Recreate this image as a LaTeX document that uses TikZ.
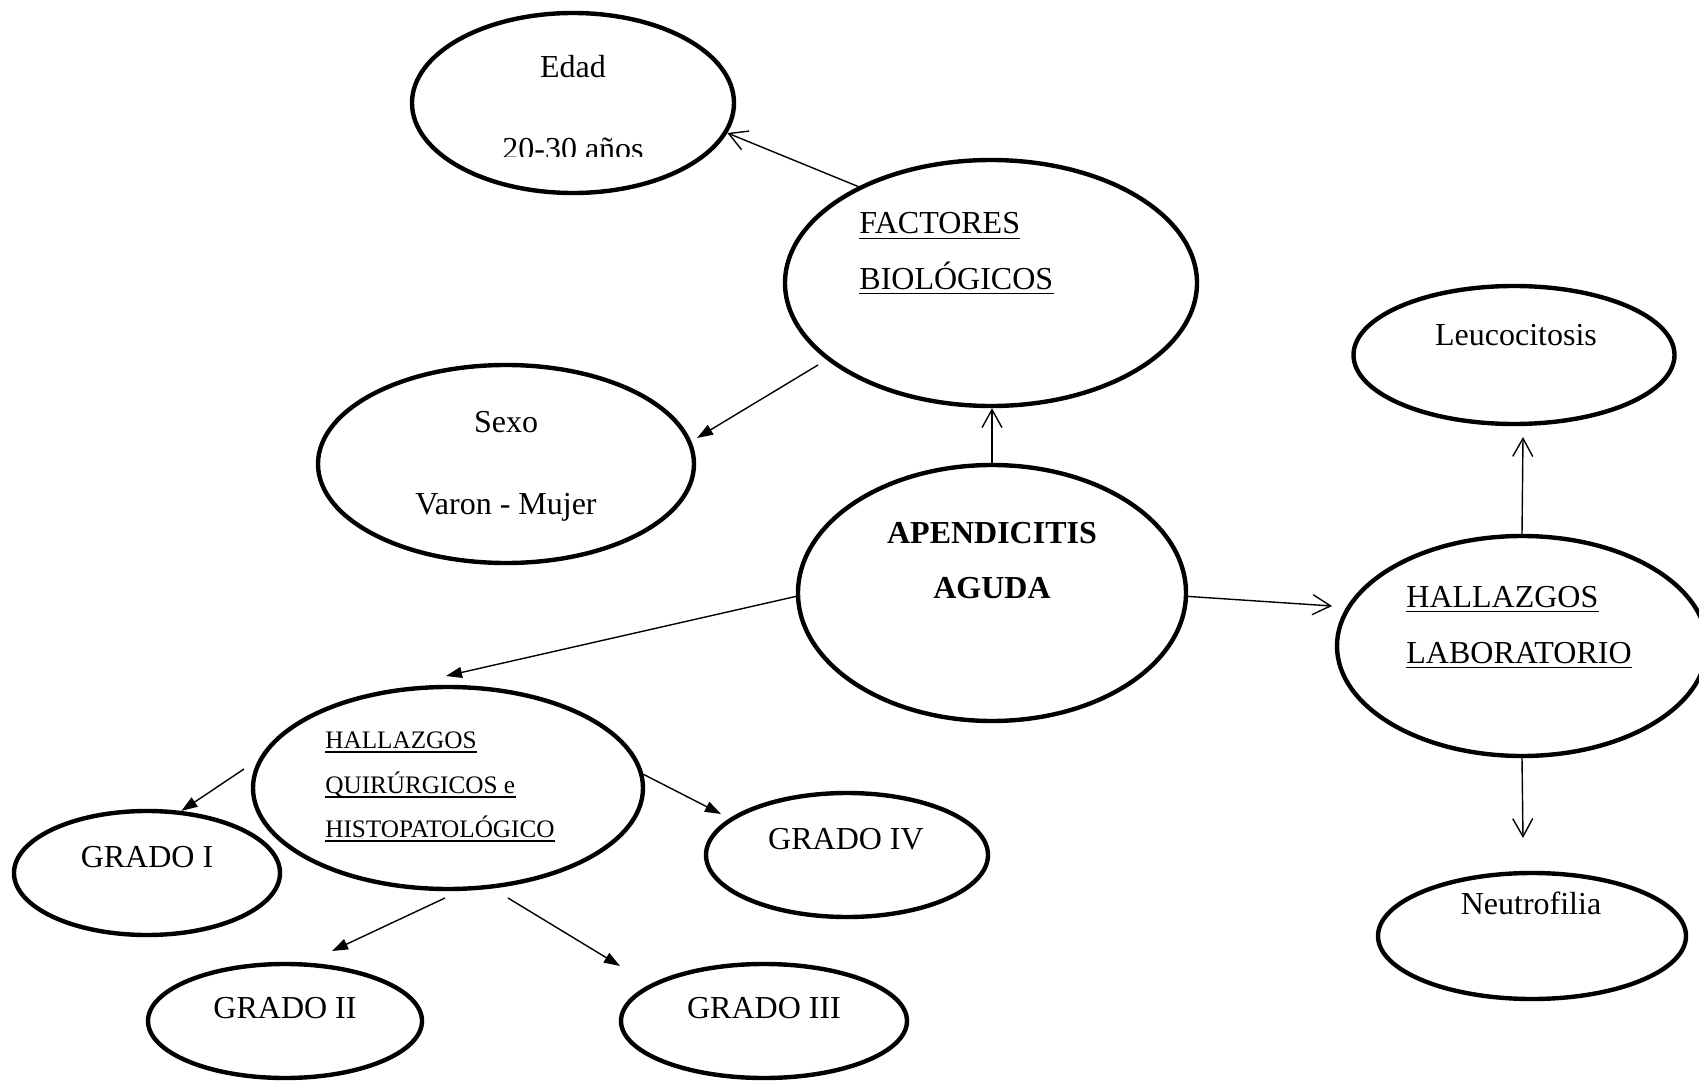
\documentclass[tikz,border=0pt]{standalone}
\usepackage{fontspec}
\setmainfont{Liberation Serif}
\usetikzlibrary{shapes.geometric,arrows.meta}
\begin{document}
\begin{tikzpicture}[x=0.5pt,y=-0.5pt,
  oval/.style={ellipse,draw,line width=2.2pt,inner sep=0pt},
  txt/.style={inner sep=0pt,anchor=base,font=\fontsize{16}{19}\selectfont},
  txtl/.style={txt,anchor=base west},
  txts/.style={inner sep=0pt,anchor=base west,font=\fontsize{12.6}{15}\selectfont},
  ul/.style={line width=0.6pt},
  openarrow/.style={line width=0.7pt,-{Straight Barb[length=9pt,width=10pt]}},
  triarrow/.style={line width=0.7pt,-{Triangle[length=8pt,width=5.5pt]}}
]
\useasboundingbox (0,0) rectangle (1699,1081);

% ---- ovals (sizes in pt, half of the drawing units) ----
\node[oval,minimum width=161pt,minimum height=90pt] (edad) at (573,103) {};
\node[oval,minimum width=206pt,minimum height=123pt] (fact) at (991,283) {};
\node[oval,minimum width=188pt,minimum height=99pt] (sexo) at (506,464) {};
\node[oval,minimum width=194pt,minimum height=128pt] (apen) at (992,593) {};
\node[oval,minimum width=185pt,minimum height=110pt] (hlab) at (1522,646) {};
\node[oval,minimum width=160.5pt,minimum height=69pt] (leuc) at (1514,355) {};
\node[oval,minimum width=154pt,minimum height=63pt] (neut) at (1532,936) {};
\node[oval,minimum width=195pt,minimum height=101pt] (hq) at (448,788) {};
\node[oval,minimum width=133pt,minimum height=62pt] (g1) at (147,873) {};
\node[oval,minimum width=137pt,minimum height=57pt] (g2) at (285,1021) {};
\node[oval,minimum width=143pt,minimum height=57pt] (g3) at (764,1021) {};
\node[oval,minimum width=141pt,minimum height=62pt] (g4) at (847,855) {};

% ---- texts ----
\node[txt] (edadt) at (573,78) {Edad};
\begin{scope}
  \clip (420,100) rectangle (730,157);
  \node[txt] (edadv) at (573,160) {20-30 años};
\end{scope}

\node[txtl] (fact1) at (859,234) {FACTORES};
\node[txtl] (fact2) at (859,289) {BIOLÓGICOS};
\draw[ul] ([yshift=-2.4pt]fact1.base west) -- ([yshift=-2.4pt]fact1.base east);
\draw[ul] ([yshift=-2.4pt]fact2.base west) -- ([yshift=-2.4pt]fact2.base east);

\node[txt] (sexot) at (506,432) {Sexo};
\node[txt] (sexov) at (506,514) {Varon - Mujer};

\node[txt,font=\fontsize{16}{19}\selectfont\bfseries] (apen1) at (992,543) {APENDICITIS};
\node[txt,font=\fontsize{16}{19}\selectfont\bfseries] (apen2) at (992,598) {AGUDA};

\node[txtl] (hlab1) at (1406,607) {HALLAZGOS};
\node[txtl] (hlab2) at (1406,663) {LABORATORIO};
\draw[ul] ([yshift=-2.4pt]hlab1.base west) -- ([yshift=-2.4pt]hlab1.base east);
\draw[ul] ([yshift=-2.4pt]hlab2.base west) -- ([yshift=-2.4pt]hlab2.base east);

\node[txt] (leuct) at (1516,345) {Leucocitosis};
\node[txt] (neutt) at (1531,914) {Neutrofilia};

\node[txts] (hq1) at (325,748) {HALLAZGOS};
\node[txts] (hq2) at (325,793) {QUIRÚRGICOS e};
\node[txts] (hq3) at (325,837) {HISTOPATOLÓGICO};
\draw[ul] ([yshift=-2pt]hq1.base west) -- ([yshift=-2pt]hq1.base east);
\draw[ul] ([yshift=-2pt]hq2.base west) -- ([yshift=-2pt]hq2.base east);
\draw[ul] ([yshift=-2pt]hq3.base west) -- ([yshift=-2pt]hq3.base east);

\node[txt] (g1t) at (147,867) {GRADO I};
\node[txt] (g2t) at (285,1018) {GRADO II};
\node[txt] (g3t) at (764,1018) {GRADO III};
\node[txt] (g4t) at (846,849) {GRADO IV};

% ---- free arrow ends ----
\coordinate (fsA) at (818,365);
\coordinate (fsB) at (697,438);
\coordinate (aqB) at (446,676);
\coordinate (alB) at (1332,606);
\coordinate (llB) at (1523,437);
\coordinate (lnB) at (1523,838);
\coordinate (q1A) at (244,769);
\coordinate (q4B) at (721,814);
\coordinate (q2A) at (445,898);
\coordinate (q2B) at (332,951);
\coordinate (q3A) at (508,898);
\coordinate (q3B) at (620,966);

% ---- connectors ----
\draw[openarrow] (fact.144) -- (edad.-11);
\draw[triarrow] (fsA) -- (fsB);
\draw[openarrow] (apen.north) -- (apen.north |- fact.south);
\draw[triarrow] (apen.181.5) -- (aqB);
\draw[openarrow] (apen.-1) -- (alB);
\draw[openarrow] (hlab.north) -- (llB);
\draw[openarrow] (hlab.south) -- (lnB);
\draw[triarrow] (q1A) -- (g1.61);
\draw[triarrow] (hq.4) -- (q4B);
\draw[triarrow] (q2A) -- (q2B);
\draw[triarrow] (q3A) -- (q3B);
\end{tikzpicture}
\end{document}
